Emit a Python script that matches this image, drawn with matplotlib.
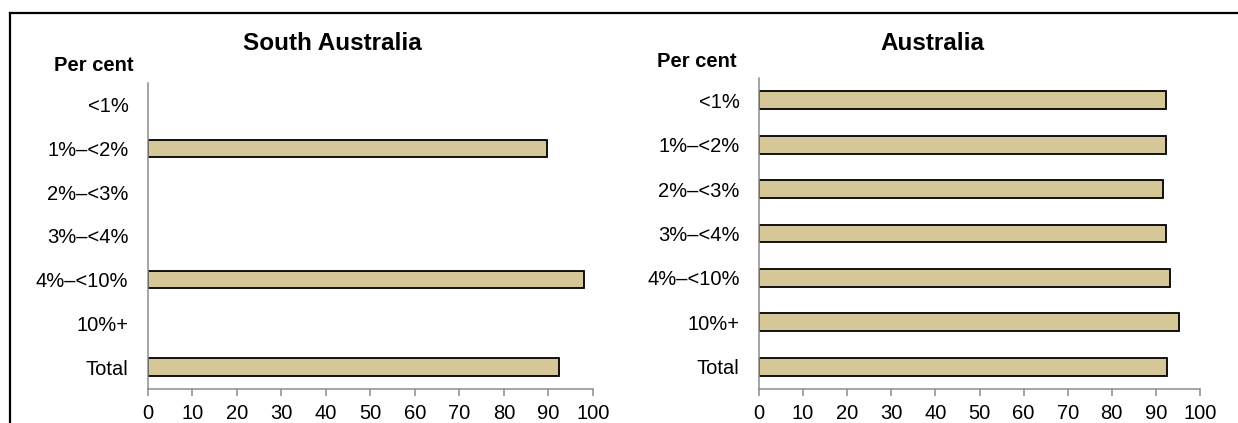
import numpy as np
import matplotlib.pyplot as plt
import matplotlib
from matplotlib.lines import Line2D

matplotlib.rcParams['font.family'] = ['Liberation Sans', 'DejaVu Sans']

# =============================================================================
# DATA
# =============================================================================

categories = ["<1%", "1%\u2013<2%", "2%\u2013<3%", "3%\u2013<4%", "4%\u2013<10%", "10%+", "Total"]
south_australia = [np.nan, 89.6, np.nan, np.nan, 98.0, np.nan, 92.3]
australia = [92.2, 92.3, 91.5, 92.3, 93.2, 95.2, 92.6]
x_ticks = list(range(0, 101, 10))

BAR_COLOR = "#D6C798"
SPINE_COLOR = "#8C8C8C"

fig = plt.figure(figsize=(12.38, 4.23), dpi=100)

# (title, values, axes rect, title x, "Per cent" position)
panels = [
    ("South Australia", south_australia, [0.1195, 0.0804, 0.3595, 0.7234], 332 / 1238, (0.076, 0.845)),
    ("Australia", australia, [0.6131, 0.0804, 0.3562, 0.7352], 932 / 1238, (0.563, 0.855)),
]


def draw_panel(title, values, rect, title_x, label_xy):
    ax = fig.add_axes(rect)
    y = np.arange(len(categories))
    vals = np.array(values, dtype=float)
    mask = ~np.isnan(vals)
    ax.barh(y[mask], vals[mask], height=0.4, color=BAR_COLOR,
            edgecolor='black', linewidth=1.3)
    ax.set_ylim(len(categories) - 0.5, -0.5)
    ax.set_xlim(0, 100)
    ax.set_yticks(y)
    ax.set_yticklabels(categories, fontsize=14.5)
    ax.set_xticks(x_ticks)
    ax.set_xticklabels([str(t) for t in x_ticks], fontsize=14.5)
    ax.tick_params(axis='y', length=0, pad=14)
    ax.tick_params(axis='x', length=5, width=1.1, color=SPINE_COLOR,
                   direction='out', pad=6)
    for side in ('top', 'right'):
        ax.spines[side].set_visible(False)
    for side in ('left', 'bottom'):
        ax.spines[side].set_color(SPINE_COLOR)
        ax.spines[side].set_linewidth(1.1)
    fig.text(title_x, 1 - 43 / 423, title, ha='center', va='center',
             fontsize=17.5, fontweight='bold')
    fig.text(label_xy[0], label_xy[1], "Per cent", ha='center', va='center',
             fontsize=14.5, fontweight='bold')
    return ax


for title, vals, rect, tx, lxy in panels:
    draw_panel(title, vals, rect, tx, lxy)

# outer frame (only top + left edges fall inside the picture)
fig.add_artist(Line2D([10 / 1238, 10 / 1238], [0, 1 - 13 / 423],
                      transform=fig.transFigure, color='black', linewidth=1.6))
fig.add_artist(Line2D([10 / 1238, 1.0], [1 - 13 / 423, 1 - 13 / 423],
                      transform=fig.transFigure, color='black', linewidth=1.6))

fig.savefig("out.png", dpi=100)
